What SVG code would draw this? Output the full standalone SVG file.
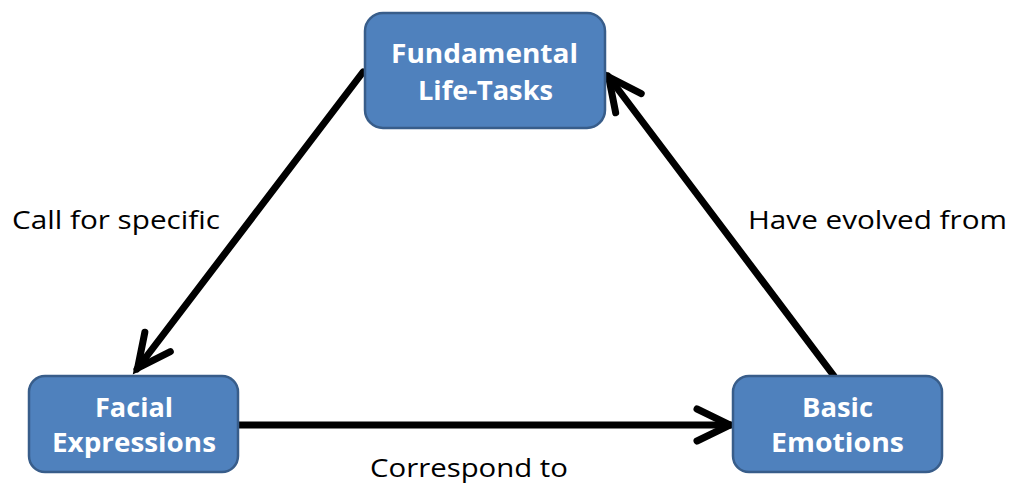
<svg xmlns="http://www.w3.org/2000/svg" width="1011" height="486" viewBox="0 0 1011 486">
<style>
.node rect{fill:#4F81BD;stroke:#385D8A;stroke-width:2.5}
.node text{fill:#fff;font-family:"Open Sans","Liberation Sans",sans-serif;font-weight:bold;font-size:27px}
.lbl{fill:#000;font-family:"Open Sans","Liberation Sans",sans-serif;font-size:26px}
.conn line{stroke:#000;stroke-width:7;stroke-linecap:round;marker-end:url(#ah)}
</style>
<defs>
<marker id="ah" markerUnits="userSpaceOnUse" viewBox="-45 -25 55 50" refX="0" refY="0" markerWidth="55" markerHeight="50" orient="auto" overflow="visible">
<path d="M-34,-16 L-1,0 L-34,16" fill="none" stroke="#000" stroke-width="7" stroke-linecap="round" stroke-linejoin="miter"/>
</marker>
</defs>
<rect width="1011" height="486" fill="#fff"/>
<g class="conn">
<line x1="363" y1="72" x2="137" y2="369"/>
<line x1="238" y1="425" x2="731" y2="425"/>
<line x1="834" y1="376" x2="608" y2="76"/>
</g>
<g id="n1" class="node"><rect x="365" y="13" width="240" height="115" rx="18"/><text x="391" y="63" textLength="187" lengthAdjust="spacingAndGlyphs">Fundamental</text><text x="418" y="100" textLength="135" lengthAdjust="spacingAndGlyphs">Life-Tasks</text></g>
<g id="n2" class="node"><rect x="29" y="376" width="209" height="96" rx="16"/><text x="95" y="417" textLength="78" lengthAdjust="spacingAndGlyphs">Facial</text><text x="52" y="452" textLength="164" lengthAdjust="spacingAndGlyphs">Expressions</text></g>
<g id="n3" class="node"><rect x="733" y="376" width="209" height="96" rx="16"/><text x="802" y="417" textLength="71" lengthAdjust="spacingAndGlyphs">Basic</text><text x="771" y="452" textLength="133" lengthAdjust="spacingAndGlyphs">Emotions</text></g>
<text class="lbl" x="12" y="229" textLength="208" lengthAdjust="spacingAndGlyphs">Call for specific</text>
<text class="lbl" x="748" y="229" textLength="259" lengthAdjust="spacingAndGlyphs">Have evolved from</text>
<text class="lbl" x="370" y="477" textLength="198" lengthAdjust="spacingAndGlyphs">Correspond to</text>
</svg>
